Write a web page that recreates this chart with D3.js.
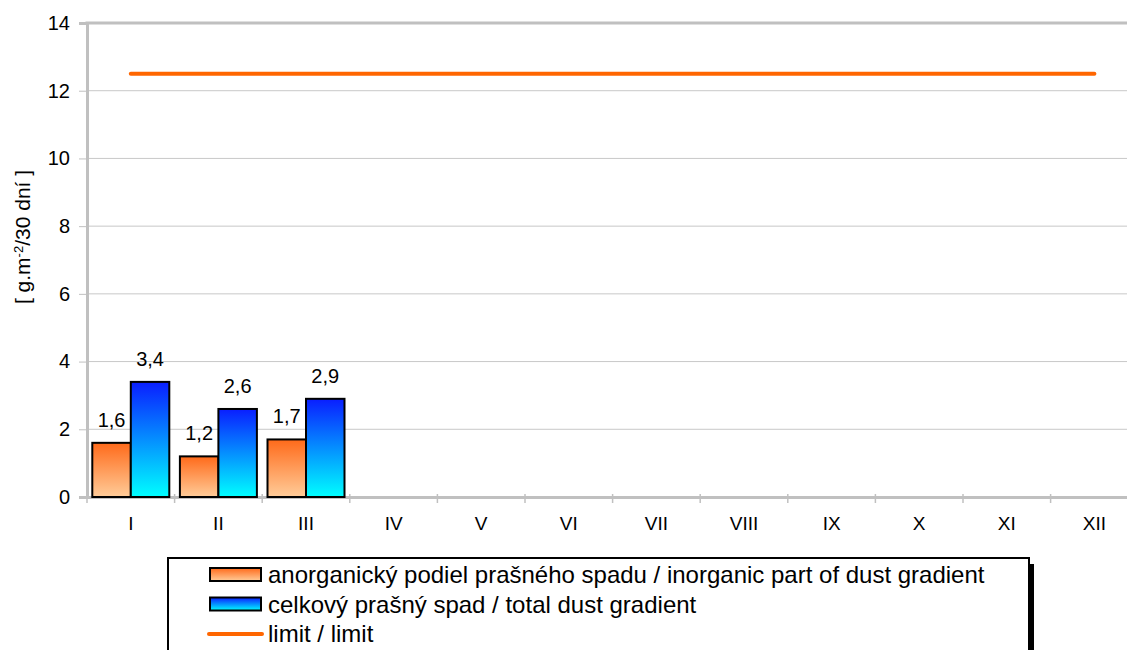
<!DOCTYPE html>
<html>
<head>
<meta charset="utf-8">
<script src="https://cdn.jsdelivr.net/npm/d3@7"></script>
<style>
  body { margin: 0; background: #fff; }
  svg { display: block; font-family: "Liberation Sans", Arial, sans-serif; }
</style>
</head>
<body>
<svg id="chart"></svg>
<script>
const months = ["I", "II", "III", "IV", "V", "VI", "VII", "VIII", "IX", "X", "XI", "XII"];
const inorganic = [1.6, 1.2, 1.7];
const total = [3.4, 2.6, 2.9];
const limitValue = 12.5;
const yTicks = [0, 2, 4, 6, 8, 10, 12, 14];
const legendLabels = [
    "anorganický podiel prašného spadu / inorganic part of dust gradient",
    "celkový prašný spad / total dust gradient",
    "limit / limit"
];

const svgWidth = 1127, svgHeight = 650;
const fontFam = "Liberation Sans, Arial, sans-serif";
const margin = {top: 23, left: 87},
    plotBottom = 497,
    bandStep = 87.6,
    plotRight = margin.left + bandStep * months.length;

const chart = d3.select("#chart")
    .attr("width", svgWidth)
    .attr("height", svgHeight);

const defs = chart.append("defs");
function grad(id, top, bottom) {
    var g = defs.append("linearGradient").attr("id", id)
        .attr("x1", 0).attr("y1", 0).attr("x2", 0).attr("y2", 1);
    g.append("stop").attr("offset", "0%").attr("stop-color", top);
    g.append("stop").attr("offset", "100%").attr("stop-color", bottom);
}
grad("gOrange", "#ff6a1a", "#ffcc99");
grad("gBlue", "#0a1eff", "#00ffff");

var xScale = d3.scaleBand().domain(months).range([margin.left, plotRight]).paddingInner(0).paddingOuter(0);
var yScale = d3.scaleLinear().domain([0, 14]).range([plotBottom, margin.top]);

// gridlines
chart.append("g").selectAll("line")
    .data(yTicks.filter(d => d > 0 && d < 14))
    .enter().append("line")
    .attr("x1", margin.left).attr("x2", svgWidth)
    .attr("y1", d => yScale(d)).attr("y2", d => yScale(d))
    .attr("stroke", "#c8c8c8").attr("stroke-width", 1);

// top border of plot area
chart.append("line")
    .attr("x1", margin.left - 1.5).attr("x2", svgWidth)
    .attr("y1", yScale(14)).attr("y2", yScale(14))
    .attr("stroke", "#c0c0c0").attr("stroke-width", 3);

// y axis
var yAxis = d3.axisLeft(yScale).tickValues(yTicks).tickSize(8).tickPadding(9);
var gy = chart.append("g")
    .attr("transform", "translate(" + margin.left + ",0)")
    .call(yAxis);
gy.attr("font-size", 20).attr("font-family", fontFam);
gy.select(".domain").attr("stroke", "#c0c0c0").attr("stroke-width", 3);
gy.selectAll(".tick line").attr("stroke", "#c0c0c0").attr("stroke-width", 1);
gy.selectAll("text").attr("fill", "#000");

// x axis
var xAxis = d3.axisBottom(xScale).tickSize(0).tickPadding(20);
var gx = chart.append("g")
    .attr("transform", "translate(0," + plotBottom + ")")
    .call(xAxis);
gx.attr("font-size", 19).attr("font-family", fontFam);
gx.select(".domain").attr("stroke", "#c0c0c0").attr("stroke-width", 3);
gx.selectAll("text").attr("fill", "#000");
// category separator ticks
chart.append("g").selectAll("line")
    .data(months.concat(["end"]))
    .enter().append("line")
    .attr("x1", (d, i) => margin.left + i * xScale.step())
    .attr("x2", (d, i) => margin.left + i * xScale.step())
    .attr("y1", plotBottom - 3).attr("y2", plotBottom + 6)
    .attr("stroke", "#c0c0c0").attr("stroke-width", 1.5);

// y title
chart.append("text")
    .attr("transform", "translate(30,237) rotate(-90)")
    .attr("text-anchor", "middle")
    .attr("font-size", 21)
    .html('[ g.m<tspan baseline-shift="super" font-size="13">-2</tspan>/30 dní ]');

// bars
var barW = 38.5;
var barsData = [];
inorganic.forEach((v, i) => barsData.push({m: months[i], v: v, k: 0}));
total.forEach((v, i) => barsData.push({m: months[i], v: v, k: 1}));

chart.append("g").selectAll("rect")
    .data(barsData)
    .enter().append("rect")
    .attr("x", d => xScale(d.m) + xScale.bandwidth() / 2 - barW + d.k * barW)
    .attr("y", d => yScale(d.v))
    .attr("width", barW)
    .attr("height", d => yScale(0) - yScale(d.v))
    .attr("fill", d => d.k == 0 ? "url(#gOrange)" : "url(#gBlue)")
    .attr("stroke", "#000").attr("stroke-width", 2);

chart.append("g").selectAll("text")
    .data(barsData)
    .enter().append("text")
    .attr("x", d => xScale(d.m) + xScale.bandwidth() / 2 - barW / 2 + d.k * barW)
    .attr("y", d => yScale(d.v) - 16)
    .attr("text-anchor", "middle")
    .attr("font-size", 20)
    .text(d => String(d.v.toFixed(1)).replace(".", ","));

// limit line
var valueline = d3.line()
    .x(d => xScale(d.m) + xScale.bandwidth() / 2)
    .y(d => yScale(d.v));
chart.append("path")
    .datum(months.map(m => ({m: m, v: limitValue})))
    .attr("d", valueline)
    .attr("fill", "none")
    .attr("stroke", "#ff6600").attr("stroke-width", 4)
    .attr("stroke-linecap", "round");

// legend
var lg = chart.append("g");
lg.append("rect").attr("x", 1029).attr("y", 564).attr("width", 5).attr("height", 100).attr("fill", "#000");
lg.append("rect").attr("x", 168).attr("y", 558).attr("width", 861).attr("height", 120)
    .attr("fill", "#fff").attr("stroke", "#000").attr("stroke-width", 2);

var rows = [575, 604.5, 634];
legendLabels.forEach((t, i) => {
    if (i < 2) {
        lg.append("rect").attr("x", 210).attr("y", rows[i] - 7).attr("width", 51).attr("height", 13)
            .attr("fill", i == 0 ? "url(#gOrange)" : "url(#gBlue)")
            .attr("stroke", "#000").attr("stroke-width", 2);
    } else {
        lg.append("line").attr("x1", 209).attr("x2", 262).attr("y1", rows[i]).attr("y2", rows[i])
            .attr("stroke", "#ff6600").attr("stroke-width", 4).attr("stroke-linecap", "round");
    }
    lg.append("text").attr("x", 268).attr("y", rows[i] + 8)
        .attr("font-size", 24).text(t);
});
</script>
</body>
</html>
